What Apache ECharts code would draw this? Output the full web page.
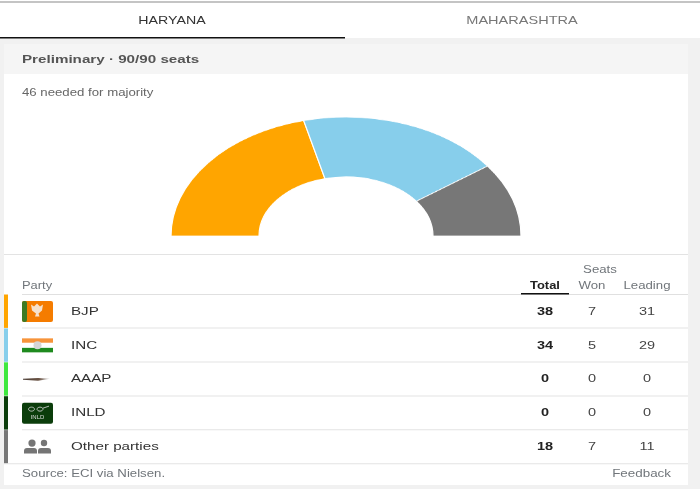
<!DOCTYPE html>
<html><head><meta charset="utf-8">
<style>html,body{margin:0;padding:0;background:#fff}
#c,#p{position:absolute;left:0;top:0;width:700px;height:500px}
#p{transform-origin:346px 236px;transform:scaleY(0.68)}</style>
<script src="https://cdn.jsdelivr.net/npm/echarts@6/dist/echarts.min.js"></script>
</head><body><div id="c"></div><div id="p"></div>
<script>
var parties = ['BJP','INC','AAAP','INLD','Other parties'];
var totals = [38,34,0,0,18];
var won = [7,5,0,0,7];
var leading = [31,29,0,0,11];
var partyColors = ['#FFA500','#87CEEB','#3FE83F','#0B3D0B','#777777'];
var chartParties = ['BJP','INC','Other parties'];
var chartSeats = [38,34,18];
var chartColors = ['#FFA500','#87CEEB','#777777'];

var F='Liberation Sans, Arial, sans-serif', g=[];
function rect(x,y,w,h,fill,r){g.push({type:'rect',silent:true,shape:{x:x,y:y,width:w,height:h,r:r||0},style:{fill:fill}});}
function text(x,y,s,o){o=o||{};g.push({type:'text',silent:true,x:x,y:y,scaleX:o.sx||1.32,style:{x:0,y:0,text:s,fill:o.c||'#3c4043',align:o.a||'left',verticalAlign:'middle',font:(o.w||'normal')+' '+(o.s||11)+'px '+F}});}

rect(0,0,700,500,'#fff');
rect(0,1,700,2,'#c4c4c4');
rect(0,38,700,451,'#f1f1f1');
rect(0,37,345,1.5,'#111');
text(172,20.5,'HARYANA',{c:'#333',a:'center',s:11,sx:1.29});
text(522,20.5,'MAHARASHTRA',{c:'#777',a:'center',s:11});
rect(4,44,684,441,'#fff');
rect(4,44,684,30,'#f5f5f5');
text(22,59.5,'Preliminary · 90/90 seats',{c:'#555',w:'bold',s:11,sx:1.38});
text(22,93,'46 needed for majority',{c:'#666',s:10});
rect(4,254,684,1,'#e3e3e3');
text(22,286,'Party',{c:'#70757a',s:10,sx:1.29});
text(600,270,'Seats',{c:'#70757a',a:'center',s:10});
text(545,286,'Total',{c:'#222',w:'bold',a:'center',s:10,sx:1.29});
text(592,286,'Won',{c:'#70757a',a:'center',s:10});
text(647,286,'Leading',{c:'#70757a',a:'center',s:10});

var rowH=33.9, rowTop=294.5;
rect(22,294,666,1,'#e0e0e0');
rect(521,293,48,1.5,'#111');
parties.forEach(function(p,i){
  var y=rowTop+i*rowH, m=y+rowH/2;
  rect(4,y,4,rowH-0.5,partyColors[i]);
  rect(i==4?4:22,y+rowH-0.8,i==4?684:666,1,'#e3e3e3');
  text(71,m,p,{c:'#333',s:11.5});
  text(545,m,String(totals[i]),{c:'#222',w:'bold',a:'center',s:11.5,sx:1.26});
  text(592,m,String(won[i]),{c:'#444',a:'center',s:11.5,sx:1.26});
  text(647,m,String(leading[i]),{c:'#444',a:'center',s:11.5,sx:1.26});
});
// party emblems
var ly=function(i){return rowTop+i*rowH+rowH/2;};
rect(22,ly(0)-10.5,31,21,'#F57C00',2); rect(22,ly(0)-10.5,5,21,'#3d7a23',2);
g.push({type:'polygon',silent:true,shape:{points:[[31,ly(0)-7],[34,ly(0)-5],[37,ly(0)-8],[40,ly(0)-5],[43,ly(0)-7],[42,ly(0)-1],[38.5,ly(0)+2],[39.5,ly(0)+5],[35,ly(0)+5],[36,ly(0)+2],[32,ly(0)-1]]},style:{fill:'#f6e2cc'}});
rect(22,ly(1)-7,31,4.5,'#F7943A'); rect(22,ly(1)-2.5,31,5,'#fff'); rect(22,ly(1)+2.5,31,4.5,'#1E8A1E');
g.push({type:'circle',silent:true,shape:{cx:37.5,cy:ly(1),r:4},style:{fill:'#d5d5d5'}});
g.push({type:'polygon',silent:true,shape:{points:[[23,ly(2)-0.6],[38,ly(2)-1.2],[50,ly(2)-0.4],[38,ly(2)+1.4],[23,ly(2)+0.6]]},style:{fill:new echarts.graphic.LinearGradient(0,0,1,0,[{offset:0,color:'#4d4038'},{offset:0.6,color:'#6b5344'},{offset:1,color:'#ddd'}])}});
rect(22,ly(3)-10.5,31,21,'#0B3D0B',2);
text(37.5,ly(3)+4.5,'INLD',{c:'#ddd',a:'center',s:6,sx:1});
g.push({type:'ellipse',silent:true,shape:{cx:31.5,cy:ly(3)-4,rx:3,ry:2},style:{fill:'none',stroke:'#ddd',lineWidth:0.8}});
g.push({type:'ellipse',silent:true,shape:{cx:40,cy:ly(3)-4,rx:3,ry:2},style:{fill:'none',stroke:'#ddd',lineWidth:0.8}});
g.push({type:'line',silent:true,shape:{x1:43,y1:ly(3)-5,x2:49,y2:ly(3)-7},style:{stroke:'#ddd',lineWidth:0.8}});
var pc='#757575';
g.push({type:'circle',silent:true,shape:{cx:32,cy:ly(4)-4,r:3.6},style:{fill:pc}});
g.push({type:'circle',silent:true,shape:{cx:44,cy:ly(4)-4,r:3.2},style:{fill:pc}});
rect(24,ly(4)+1,13,5.5,pc,[3,3,0,0]); rect(38,ly(4)+1,13,5.5,pc,[3,3,0,0]);
text(22,474.5,'Source: ECI via Nielsen.',{c:'#70757a',s:10});
text(671,474.5,'Feedback',{c:'#70757a',a:'right',s:10,sx:1.34});

var base=echarts.init(document.getElementById('c'));
base.setOption({animation:false,graphic:{elements:g}});
var chart=echarts.init(document.getElementById('p'));
chart.setOption({
  animation:false,
  backgroundColor:'transparent',
  series:[{
    type:'pie',silent:true,
    center:[346,236],radius:[87,175],
    startAngle:180,endAngle:0,clockwise:true,
    label:{show:false},labelLine:{show:false},
    itemStyle:{borderColor:'#fff',borderWidth:1.2},
    data:chartParties.map(function(n,i){return {name:n,value:chartSeats[i],itemStyle:{color:chartColors[i]}};})
  }]
});
</script></body></html>
